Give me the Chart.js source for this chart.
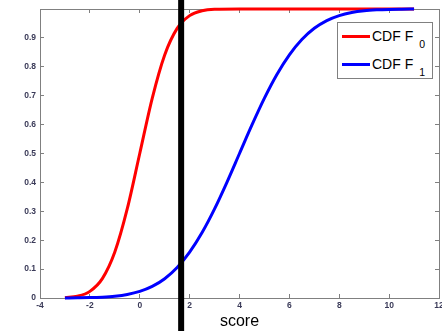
<!DOCTYPE html>
<html>
<head>
<meta charset="utf-8">
<script src="https://cdn.jsdelivr.net/npm/chart.js@4/dist/chart.umd.min.js"></script>
<style>
  html, body { margin: 0; padding: 0; background: #fff; }
  #wrap { position: relative; width: 442px; height: 331px; }
  #legend { position: absolute; left: 337px; top: 22px; width: 96px; height: 57px;
            border: 1px solid #808080; background: #fff; box-sizing: border-box;
            font-family: 'Liberation Sans', Arial, sans-serif; font-size: 14px; color: #000; }
  .row { position: absolute; left: 0; height: 20px; width: 100%; }
  .swatch { position: absolute; left: 4px; top: 8px; width: 28px; height: 3px; }
  .lbl { position: absolute; left: 34px; top: 1px; white-space: nowrap; line-height: 16px; }
  .sub { font-size: 10.5px; position: relative; top: 7px; margin-left: 6px; }
</style>
</head>
<body>
<div id="wrap">
  <canvas id="c" width="442" height="331"></canvas>
  <div id="legend">
    <div class="row" style="top:4px"><span class="swatch" style="background:#ff0000"></span><span class="lbl">CDF F<span class="sub">0</span></span></div>
    <div class="row" style="top:32px"><span class="swatch" style="background:#0000ff"></span><span class="lbl">CDF F<span class="sub">1</span></span></div>
  </div>
</div>
<script>
// ---- data ----
const redX  = [-3, -2.5, -2, -1.5, -1, -0.5, 0, 0.5, 1, 1.5, 2, 2.5, 3, 4, 5, 6, 7, 8, 9, 10, 11];
const redY  = [0.001, 0.006, 0.023, 0.067, 0.159, 0.309, 0.5, 0.691, 0.841, 0.933, 0.977, 0.994, 0.999, 1, 1, 1, 1, 1, 1, 1, 1];
const blueX = [-3, -2.5, -2, -1.5, -1, -0.5, 0, 0.5, 1, 1.5, 2, 2.5, 3, 3.5, 4, 4.5, 5, 5.5, 6, 6.5, 7, 7.5, 8, 8.5, 9, 9.5, 10, 10.5, 11];
const blueY = [0.0002, 0.0006, 0.0013, 0.003, 0.0062, 0.0122, 0.0228, 0.0401, 0.0668, 0.1056, 0.1587, 0.2266, 0.3085, 0.4013, 0.5, 0.5987, 0.6915, 0.7734, 0.8413, 0.8944, 0.9332, 0.9599, 0.9772, 0.9878, 0.9938, 0.997, 0.9987, 0.9994, 0.9998];
const cutoffX = 1.66;
const xMin = -4, xMax = 12, xStep = 2;
const yMin = 0, yMax = 1, yStep = 0.1;
const xTitle = 'score';

const toPts = (xs, ys) => xs.map((x, i) => ({ x: x, y: ys[i] }));

const FONT = "'Liberation Sans', Arial, sans-serif";
const TICK_COLOR = '#3a3a58';
const AXIS_COLOR = '#808080';

const cutoffPlugin = {
  id: 'cutoff',
  afterDatasetsDraw(chart) {
    const x = chart.scales.x.getPixelForValue(cutoffX);
    const ctx = chart.ctx;
    ctx.save();
    ctx.strokeStyle = '#000';
    ctx.lineWidth = 6;
    ctx.beginPath();
    ctx.moveTo(x, 0);
    ctx.lineTo(x, chart.height);
    ctx.stroke();
    ctx.restore();
  }
};

function fixW(w) { return s => { s.width = w; s.paddingTop = 0; s.paddingBottom = 0; }; }
function fixH(h) { return s => { s.height = h; s.paddingLeft = 0; s.paddingRight = 0; }; }

const tickFont = { family: FONT, size: 8.5, weight: 'bold' };

new Chart(document.getElementById('c'), {
  type: 'line',
  data: {
    datasets: [
      { label: 'CDF F1', data: toPts(blueX, blueY), borderColor: '#0000ff', borderWidth: 3,
        pointRadius: 0, fill: false, cubicInterpolationMode: 'monotone', clip: 6 },
      { label: 'CDF F0', data: toPts(redX, redY), borderColor: '#ff0000', borderWidth: 3,
        pointRadius: 0, fill: false, cubicInterpolationMode: 'monotone', clip: 6 }
    ]
  },
  options: {
    responsive: false,
    animation: false,
    layout: { padding: { top: 9, right: 3, left: 0, bottom: 0 } },
    plugins: { legend: { display: false }, tooltip: { enabled: false } },
    scales: {
      x: {
        type: 'linear', position: 'bottom', min: xMin, max: xMax,
        ticks: { stepSize: xStep, font: tickFont, color: TICK_COLOR, padding: 7, maxRotation: 0 },
        grid: { drawOnChartArea: false, tickLength: -4, color: AXIS_COLOR },
        border: { color: AXIS_COLOR, width: 1 },
        title: { display: true, text: xTitle, color: '#000', font: { family: FONT, size: 16 }, padding: { top: 0, bottom: 0 } },
        afterFit: fixH(33)
      },
      x2: {
        type: 'linear', position: 'top', min: xMin, max: xMax,
        ticks: { stepSize: xStep, display: false },
        grid: { drawOnChartArea: false, tickLength: -4, color: AXIS_COLOR },
        border: { color: AXIS_COLOR, width: 1 },
        afterFit: fixH(0)
      },
      y: {
        type: 'linear', position: 'left', min: yMin, max: yMax,
        ticks: { stepSize: yStep, font: tickFont, color: TICK_COLOR, padding: 8,
                 callback: v => (v >= yMax - 1e-9 ? '' : String(Number(v.toFixed(1)))) },
        grid: { drawOnChartArea: false, tickLength: -4, color: AXIS_COLOR },
        border: { color: AXIS_COLOR, width: 1 },
        afterFit: fixW(40)
      },
      y2: {
        type: 'linear', position: 'right', min: yMin, max: yMax,
        ticks: { stepSize: yStep, display: false },
        grid: { drawOnChartArea: false, tickLength: -4, color: AXIS_COLOR },
        border: { color: AXIS_COLOR, width: 1 },
        afterFit: fixW(0)
      }
    }
  },
  plugins: [cutoffPlugin]
});
</script>
</body>
</html>
